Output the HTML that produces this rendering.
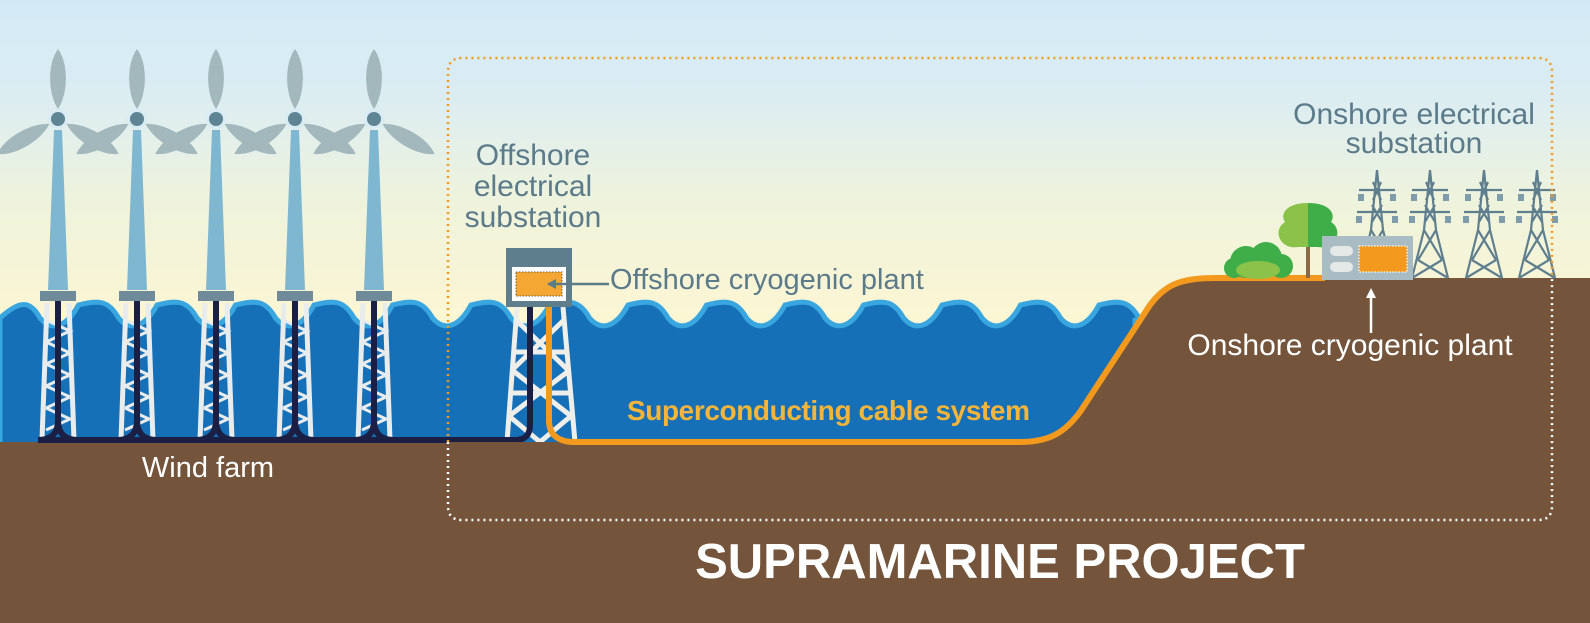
<!DOCTYPE html>
<html><head><meta charset="utf-8"><style>
html,body{margin:0;padding:0;width:1590px;height:623px;overflow:hidden;background:#74553c}
svg{display:block}
text{font-family:"Liberation Sans",sans-serif}
</style></head><body>
<svg id="s" width="1590" height="623" viewBox="0 0 1590 623" xmlns="http://www.w3.org/2000/svg">
<defs>
<linearGradient id="sky" x1="0" y1="0" x2="0" y2="1">
<stop offset="0" stop-color="#d3eaf6"/><stop offset="0.3" stop-color="#dcedf2"/><stop offset="0.6" stop-color="#eef3dd"/><stop offset="1" stop-color="#fdf6d2"/>
</linearGradient>
</defs>
<rect x="0" y="0" width="1590" height="330" fill="url(#sky)"/>
<g id="turbines"></g>
<path id="water" fill="#1570b8" stroke="#3aa6df" stroke-width="5"/>
<g id="jackets"></g>
<g stroke="#eeeeea" stroke-width="5" fill="none">
<path d="M517,307 L507,442 M563,307 L575,442"/>
<path d="M516,320 L568,370 M564,320 L512,370 M512,370 L571,416 M570,370 L509,416 M513,352 L568,352 M511,393 L571,393 M509,416 L540,442 M571,416 L540,442"/>
</g>
<path d="M530,307 L530,425 Q530,440 515,440 L445,440" stroke="#1c1f44" stroke-width="6" fill="none"/>
<path d="M0,442 L1020,442 C1050,442 1065,432 1080,412 L1150,305 C1165,285 1180,278 1215,278 L1590,278 L1590,623 L0,623 Z" fill="#74553c"/>
<path d="M549,307 L549,420 Q549,442 575,442 L1020,442 C1050,442 1065,432 1080,412 L1150,305 C1165,285 1180,278 1215,278 L1325,278" stroke="#f39a1e" stroke-width="6" fill="none"/>
<rect x="506" y="248" width="66" height="59" fill="#5e7e8e"/>
<rect x="512" y="267" width="54" height="34" fill="#fff"/>
<rect x="516" y="272" width="46" height="24" fill="#f5a733" stroke="#6b5a3a" stroke-width="1" stroke-dasharray="1.5 1.5"/>
<path d="M609,284 L548,284" stroke="#5b7a8a" stroke-width="2.5"/>
<path d="M547,284 L556,279 L556,289 Z" fill="#5b7a8a"/>
<g id="cables" stroke="#1c1f44" stroke-width="6" fill="none"></g>
<g id="pylons" fill="none" stroke-width="2.2"></g>
<circle cx="1246" cy="262" r="16" fill="#3fae49"/><circle cx="1266" cy="258" r="16" fill="#3fae49"/><circle cx="1281" cy="266" r="12" fill="#3fae49"/><circle cx="1234" cy="268" r="10" fill="#3fae49"/>
<ellipse cx="1258" cy="270" rx="22" ry="9" fill="#8bc34a"/>
<rect x="1306" y="240" width="4" height="38" fill="#8a6a46"/>
<path d="M1308,203 C1285,203 1280,215 1285,222 C1272,230 1280,250 1298,247 L1308,247 Z" fill="#8bc34a"/>
<path d="M1308,203 C1331,203 1336,215 1331,222 C1344,230 1336,250 1318,247 L1308,247 Z" fill="#3fae49"/>
<rect x="1322" y="236" width="91" height="44" fill="#a9bcc4"/>
<rect x="1330" y="246" width="23" height="10" rx="5" fill="#e4e8e6"/>
<rect x="1330" y="262" width="23" height="10" rx="5" fill="#e4e8e6"/>
<rect x="1359" y="246" width="48" height="26" fill="#f39a1e" stroke="#fff" stroke-width="1.2" stroke-dasharray="1.5 1.5"/>
<path d="M1371,333 L1371,295" stroke="#fff" stroke-width="2.5"/>
<path d="M1371,288 L1366,298 L1376,298 Z" fill="#fff"/>
<path d="M448,442 L448,72 Q448,58 462,58 L1538,58 Q1552,58 1552,72 L1552,278" stroke="#f39a1e" stroke-width="2.5" fill="none" stroke-dasharray="2 4"/>
<path d="M448,442 L448,506 Q448,520 462,520 L1538,520 Q1552,520 1552,506 L1552,278" stroke="#fff" stroke-width="2.5" fill="none" stroke-dasharray="2 4"/>
<g fill="#5b7a8a" font-size="30" text-anchor="middle">
<text x="533" y="165">Offshore</text><text x="533" y="196">electrical</text><text x="533" y="227">substation</text>
<text x="1414" y="124">Onshore electrical</text><text x="1414" y="153">substation</text>
<text x="610" y="289" text-anchor="start" font-size="29">Offshore cryogenic plant</text>
</g>
<text x="627" y="420" fill="#f5b43a" font-size="28" font-weight="bold" textLength="403">Superconducting cable system</text>
<text x="1350" y="355" fill="#fff" font-size="30" text-anchor="middle">Onshore cryogenic plant</text>
<text x="208" y="477" fill="#fff" font-size="29" text-anchor="middle">Wind farm</text>
<text x="1000" y="578" fill="#fff" font-size="49" font-weight="bold" text-anchor="middle">SUPRAMARINE PROJECT</text>
</svg>
<script>
var NS="http://www.w3.org/2000/svg";
function el(p,t,a){var e=document.createElementNS(NS,t);for(var k in a)e.setAttribute(k,a[k]);p.appendChild(e);return e;}
var d="M0,318";var P=78.5;
for(var x=0;x<1130;x+=P){d+=" C"+(x+20)+",300 "+(x+30)+",300 "+(x+40)+",318 C"+(x+50)+",330 "+(x+65)+",330 "+(x+P)+",305";}
d+=" L1135,320 L1135,445 L0,445 Z";
document.getElementById("water").setAttribute("d",d);
var T=document.getElementById("turbines"),J=document.getElementById("jackets"),C=document.getElementById("cables");
[58,137,216,295,374].forEach(function(c){
 var b="M0,-10 C-10,-25 -11,-55 0,-70 C11,-55 10,-25 0,-10Z";
 el(T,"path",{d:b,fill:"#a3b8bd",transform:"translate("+c+",119)"});
 el(T,"path",{d:b,fill:"#a3b8bd",transform:"translate("+c+",119) rotate(120)"});
 el(T,"path",{d:b,fill:"#a3b8bd",transform:"translate("+c+",119) rotate(-120)"});
 el(T,"path",{d:"M"+(c-4)+",130 L"+(c+4)+",130 L"+(c+10)+",290 L"+(c-10)+",290Z",fill:"#7fb7d1"});
 el(T,"circle",{cx:c,cy:119,r:10,fill:"#d9ebf3"});
 el(T,"circle",{cx:c,cy:119,r:7,fill:"#5f8595"});
 el(T,"rect",{x:c-18,y:291,width:36,height:10,fill:"#6f8a99"});
 var g=el(J,"g",{stroke:"#e9ecec","stroke-width":5,fill:"none"});
 el(g,"path",{d:"M"+(c-11)+",303 L"+(c-16)+",440 M"+(c+11)+",303 L"+(c+16)+",440"});
 var s="";for(var y=320;y<430;y+=22){s+="M"+(c-12)+","+y+" L"+(c+12)+","+(y+11)+" L"+(c-12)+","+(y+22)+" ";}
 el(g,"path",{d:s,"stroke-width":3});
 el(C,"path",{d:"M"+c+",301 L"+c+",420 Q"+c+",440 "+(c-20)+",440 M"+c+",420 Q"+c+",440 "+(c+20)+",440"});
});
el(C,"path",{d:"M38,440 L450,440"});
var PY=document.getElementById("pylons");
[1377,1430,1484,1537].forEach(function(c,i){
 var g=el(PY,"g",{stroke:"#5f7f8f"});
 el(g,"path",{d:"M"+c+",170 L"+(c-6)+",230 L"+(c-18)+",278 M"+c+",170 L"+(c+6)+",230 L"+(c+18)+",278 M"+(c-6)+",230 L"+(c+12)+",260 M"+(c+6)+",230 L"+(c-12)+",260 M"+(c-12)+",260 L"+(c+18)+",278 M"+(c+12)+",260 L"+(c-18)+",278 M"+(c-18)+",190 L"+(c+18)+",190 M"+(c-20)+",212 L"+(c+20)+",212 M"+(c-4)+",182 L"+(c+4)+",200 M"+(c+4)+",182 L"+(c-4)+",200 M"+(c-5)+",205 L"+(c+5)+",222 M"+(c+5)+",205 L"+(c-5)+",222"});
 [[-16,194],[16,194],[-18,216],[18,216]].forEach(function(p){el(g,"rect",{x:c+p[0]-3,y:p[1],width:6,height:7,fill:"#7f9caa",stroke:"none"});});
});
</script>
</body></html>
